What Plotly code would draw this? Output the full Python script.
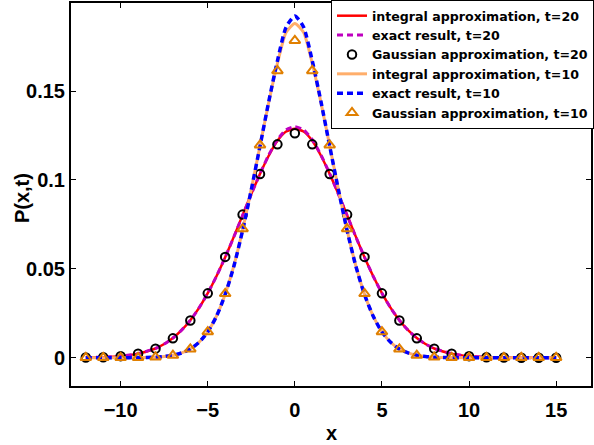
import plotly.graph_objects as go

# x grid for the continuous curves
x_line = [-12, -11, -10, -9,
          -8, -7.5, -7, -6.5, -6, -5.5, -5, -4.5, -4, -3.5, -3, -2.5, -2, -1.5, -1, -0.5,
          0, 0.5, 1, 1.5, 2, 2.5, 3, 3.5, 4, 4.5, 5, 5.5, 6, 6.5, 7, 7.5, 8,
          9, 10, 11, 12, 13, 14, 15]

# integral approximation, t=20
int20 = [0.0001, 0.0003, 0.0009, 0.0023,
         0.0052, 0.0077, 0.0111, 0.0155, 0.0211, 0.0280, 0.0363, 0.0458, 0.0565, 0.0681, 0.0802, 0.0921, 0.1034, 0.1136, 0.1220, 0.1272,
         0.1288, 0.1272, 0.1220, 0.1136, 0.1034, 0.0921, 0.0802, 0.0681, 0.0565, 0.0458, 0.0363, 0.0280, 0.0211, 0.0155, 0.0111, 0.0077, 0.0052,
         0.0023, 0.0009, 0.0003, 0.0001, 0.0000, 0.0000, 0.0000]

# exact result, t=20
exact20 = [0.0001, 0.0003, 0.0009, 0.0023,
           0.0052, 0.0077, 0.0111, 0.0155, 0.0211, 0.0280, 0.0363, 0.0458, 0.0565, 0.0680, 0.0800, 0.0920, 0.1035, 0.1140, 0.1226, 0.1282,
           0.1300, 0.1282, 0.1226, 0.1140, 0.1035, 0.0920, 0.0800, 0.0680, 0.0565, 0.0458, 0.0363, 0.0280, 0.0211, 0.0155, 0.0111, 0.0077, 0.0052,
           0.0023, 0.0009, 0.0003, 0.0001, 0.0000, 0.0000, 0.0000]

# integral approximation, t=10
int10 = [0.0000, 0.0000, 0.0000, 0.0001,
         0.0003, 0.0007, 0.0014, 0.0027, 0.0049, 0.0087, 0.0146, 0.0234, 0.0357, 0.0518, 0.0718, 0.0948, 0.1192, 0.1435, 0.1655, 0.1830,
         0.1880, 0.1830, 0.1655, 0.1435, 0.1192, 0.0948, 0.0718, 0.0518, 0.0357, 0.0234, 0.0146, 0.0087, 0.0049, 0.0027, 0.0014, 0.0007, 0.0003,
         0.0001, 0.0000, 0.0000, 0.0000, 0.0000, 0.0000, 0.0000]

# exact result, t=10
exact10 = [0.0000, 0.0000, 0.0000, 0.0001,
           0.0003, 0.0007, 0.0014, 0.0027, 0.0049, 0.0087, 0.0145, 0.0233, 0.0355, 0.0515, 0.0715, 0.0945, 0.1190, 0.1440, 0.1670, 0.1860,
           0.1922, 0.1860, 0.1670, 0.1440, 0.1190, 0.0945, 0.0715, 0.0515, 0.0355, 0.0233, 0.0145, 0.0087, 0.0049, 0.0027, 0.0014, 0.0007, 0.0003,
           0.0001, 0.0000, 0.0000, 0.0000, 0.0000, 0.0000, 0.0000]

# Gaussian approximations at integer x
x_pts = [-12, -11, -10, -9, -8, -7, -6, -5, -4, -3, -2, -1, 0, 1, 2, 3, 4, 5, 6, 7, 8, 9, 10, 11, 12, 13, 14, 15]
gauss20 = [0.0001, 0.0003, 0.0009, 0.0022, 0.0051, 0.0109, 0.0209, 0.0362, 0.0567, 0.0805, 0.1033, 0.1200, 0.1262,
           0.1200, 0.1033, 0.0805, 0.0567, 0.0362, 0.0209, 0.0109, 0.0051, 0.0022, 0.0009, 0.0003, 0.0001, 0.0000, 0.0000, 0.0000]
gauss10 = [0.0000, 0.0000, 0.0000, 0.0001, 0.0003, 0.0013, 0.0049, 0.0146, 0.0360, 0.0725, 0.1196, 0.1614, 0.1784,
           0.1614, 0.1196, 0.0725, 0.0360, 0.0146, 0.0049, 0.0013, 0.0003, 0.0001, 0.0000, 0.0000, 0.0000, 0.0000, 0.0000, 0.0000]

x_ticks = [-10, -5, 0, 5, 10, 15]
y_ticks = [0, 0.05, 0.1, 0.15]
y_tick_labels = ["0", "0.05", "0.1", "0.15"]

FONT = "Liberation Sans, Arial, sans-serif"
LEGEND_FONT = "DejaVu Sans, Liberation Sans, sans-serif"

fig = go.Figure()
fig.add_trace(go.Scatter(x=x_line, y=int20, mode="lines", name="integral approximation, t=20",
                         line=dict(color="#ff0000", width=2.5, shape="spline", smoothing=0.6)))
fig.add_trace(go.Scatter(x=x_line, y=exact20, mode="lines", name="exact result, t=20",
                         line=dict(color="#bf00bf", width=3, dash="6px,4px", shape="spline", smoothing=0.6)))
fig.add_trace(go.Scatter(x=x_pts, y=gauss20, mode="markers", name="Gaussian approximation, t=20",
                         marker=dict(symbol="circle-open", color="black", size=8.5, line=dict(width=2))))
fig.add_trace(go.Scatter(x=x_line, y=int10, mode="lines", name="integral approximation, t=10",
                         line=dict(color="#ffae6b", width=3, shape="spline", smoothing=0.6)))
fig.add_trace(go.Scatter(x=x_line, y=exact10, mode="lines", name="exact result, t=10",
                         line=dict(color="#0000ff", width=3.5, dash="6px,4px", shape="spline", smoothing=0.6)))
fig.add_trace(go.Scatter(x=x_pts, y=gauss10, mode="markers", name="Gaussian approximation, t=10",
                         marker=dict(symbol="triangle-up-open", color="#e07f00", size=9.5, line=dict(width=2))))

axis_common = dict(showgrid=False, zeroline=False, showline=True, linecolor="black", linewidth=2,
                   mirror="ticks", ticks="inside", ticklen=5, tickwidth=1, tickcolor="black",
                   tickfont=dict(family=FONT, size=20, color="black", weight="bold"))

fig.update_xaxes(range=[-12.85, 17.0], tickvals=x_ticks, ticklabelstandoff=5, **axis_common)
fig.update_yaxes(range=[-0.0159, 0.1995], tickvals=y_ticks, ticktext=y_tick_labels, **axis_common)

title_font = dict(family=FONT, size=20, color="black", weight="bold")
fig.add_annotation(text="x", xref="paper", yref="paper", x=0.5, y=-0.153,
                   xanchor="center", yanchor="bottom", borderpad=0, showarrow=False, font=title_font)
fig.add_annotation(text="P(x,t)", xref="paper", yref="paper", x=-0.0943, y=0.4905,
                   xanchor="center", yanchor="middle", textangle=-90, showarrow=False, font=title_font)

fig.update_layout(
    width=594, height=445,
    margin=dict(l=71, r=0, t=1, b=59),
    plot_bgcolor="white", paper_bgcolor="white",
    showlegend=True,
    legend=dict(x=1.006, xanchor="right", y=1.008, yanchor="top",
                bgcolor="white", bordercolor="black", borderwidth=1,
                font=dict(family=LEGEND_FONT, size=12.6, color="black", weight="bold"),
                tracegroupgap=0, itemwidth=30),
)

fig.write_html("out.html", config={"displayModeBar": False},
               post_script="document.body.style.margin='0px';")
